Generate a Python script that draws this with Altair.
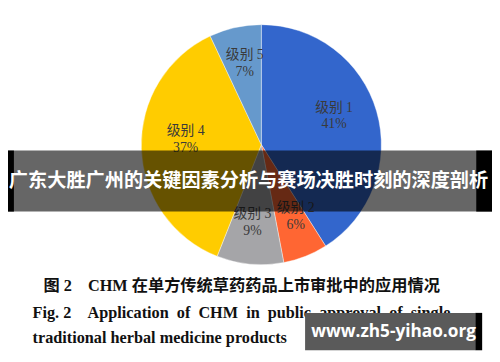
import altair as alt
import pandas as pd

categories = ["级别 1", "级别 2", "级别 3", "级别 4", "级别 5"]
shares = [41, 6, 9, 37, 7]
colors = ["#3366CC", "#FF6633", "#A5A5A8", "#FFCC00", "#6699CC"]
small_slices = ["级别 2", "级别 3"]

NB = "\u00a0"
banner_text = "广东大胜广州的关键因素分析与赛场决胜时刻的深度剖析"
caption_cn = "图 2" + NB * 4 + "CHM 在单方传统草药药品上市审批中的应用情况"
caption_en1_words = ["Fig. 2" + NB * 2, "Application", "of", "CHM", "in", "public", "approval", "of", "single"]
caption_en2 = "traditional herbal medicine products"
watermark = "www.zh5-yihao.org"

df = pd.DataFrame({
    "cat": categories,
    "share": shares,
    "order": list(range(len(categories))),
    "label": [f"{c}\n{s}%" for c, s in zip(categories, shares)],
    "small": [c in small_slices for c in categories],
})

W, H = 492, 354
CX, CY = 257.5, 136
R = 122

base = alt.Chart(df)

pie = base.mark_arc(outerRadius=R, stroke="white", strokeWidth=0.4).encode(
    theta=alt.Theta("share:Q", stack=True),
    order=alt.Order("order:Q"),
    color=alt.Color("cat:N", scale=alt.Scale(domain=categories, range=colors), legend=None),
    x=alt.value(CX), y=alt.value(CY),
)

label_style = dict(lineBreak="\n", font="Liberation Serif, Noto Sans CJK SC",
                   fontSize=14, color="#3a3a3a", lineHeight=17,
                   baseline="middle", align="center")

label_base = base.transform_stack(
    stack="share", groupby=[], as_=["s0", "s1"], sort=[alt.SortField("order")]
).transform_calculate(
    mid="(datum.s0 + datum.s1) / 2"
)

label_enc = dict(
    theta=alt.Theta("mid:Q", scale=alt.Scale(domain=[0, sum(shares)], range=[0, 6.283185307])),
    text="label:N",
    x=alt.value(CX), y=alt.value(CY),
)

labels_big = label_base.transform_filter("!datum.small").mark_text(
    radius=77, dy=-16, **label_style).encode(**label_enc)
labels_small = label_base.transform_filter("datum.small").mark_text(
    radius=95, dy=-24, **label_style).encode(**label_enc)

one = pd.DataFrame({"a": [0]})
o = alt.Chart(one)

band = o.mark_rect(color="black", opacity=0.6).encode(
    x=alt.value(0), x2=alt.value(W), y=alt.value(142), y2=alt.value(204))
band_l = o.mark_rect(color="black").encode(
    x=alt.value(0), x2=alt.value(6), y=alt.value(142), y2=alt.value(204))
band_r = o.mark_rect(color="black").encode(
    x=alt.value(476), x2=alt.value(W), y=alt.value(142), y2=alt.value(204))
banner = o.mark_text(
    text=banner_text, font="Noto Sans CJK SC", fontWeight="bold", fontSize=19.5,
    color="white", align="center", baseline="middle",
).encode(x=alt.value(244.5), y=alt.value(173))

cap1 = o.mark_text(
    text=caption_cn, font="Liberation Serif, Noto Sans CJK SC", fontWeight="bold",
    fontSize=16.5, color="#111111", align="left", baseline="middle",
).encode(x=alt.value(36), y=alt.value(280))
cap2 = o.mark_text(
    text=(" " + NB).join(caption_en1_words), font="Liberation Serif", fontWeight="bold",
    fontSize=16.5, color="#111111", align="left", baseline="middle",
).encode(x=alt.value(25), y=alt.value(307))
cap3 = o.mark_text(
    text=caption_en2, font="Liberation Serif", fontWeight="bold",
    fontSize=16.5, color="#111111", align="left", baseline="middle",
).encode(x=alt.value(25), y=alt.value(333))

wm_box = o.mark_rect(color="#5a5a5a").encode(
    x=alt.value(302), x2=alt.value(475), y=alt.value(307), y2=alt.value(345))
wm_bar = o.mark_rect(color="black").encode(
    x=alt.value(475), x2=alt.value(482), y=alt.value(307), y2=alt.value(345))
wm_text = o.mark_text(
    text=watermark, font="Open Sans", fontWeight="bold", fontSize=17.5,
    color="white", align="center", baseline="middle",
).encode(x=alt.value(392), y=alt.value(327))

chart = alt.layer(
    pie, labels_big, labels_small, band, band_l, band_r, banner, cap1, cap2, cap3,
    wm_box, wm_bar, wm_text
).properties(
    width=W, height=H, padding=0, autosize=alt.AutoSizeParams(type="none"),
    background="white",
).configure_view(stroke=None)

chart.save("out.html", embed_options={"renderer": "svg", "actions": False})
